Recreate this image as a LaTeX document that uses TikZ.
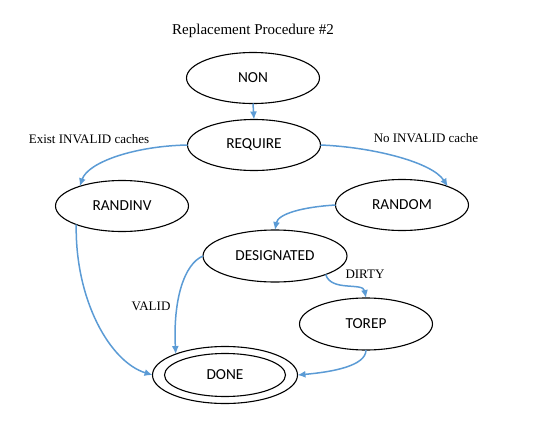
\documentclass[tikz,border=0pt]{standalone}
\usepackage{fontspec}
\setmainfont{Liberation Serif}
\newfontfamily\nodefont{Carlito}
\usetikzlibrary{shapes.geometric,arrows.meta}
\definecolor{arrowblue}{RGB}{91,155,213}
\begin{document}
\begin{tikzpicture}[x=1pt,y=-1pt,
  state/.style={ellipse,draw=black,line width=1.1pt,inner sep=0pt,outer sep=0pt,
    minimum width=133pt,minimum height=51pt,font=\nodefont\fontsize{15.3}{17}\selectfont},
  lbl/.style={font=\fontsize{13}{15}\selectfont,inner sep=0pt},
  conn/.style={draw=arrowblue,line width=1.5pt,-{Latex[length=8pt,width=7pt]}}]
\useasboundingbox (0,0) rectangle (550,437);
\node[lbl,font=\fontsize{15}{17}\selectfont] (title) at (253,31) {Replacement Procedure \#2};
\node[state] (non) at (253,78) {NON};
\node[state] (req) at (254,145) {REQUIRE};
\node[state] (rinv) at (122,206) {RANDINV};
\node[state] (rand) at (402,205) {RANDOM};
\node[state,minimum width=144pt,minimum height=52pt] (des) at (275,256) {DESIGNATED};
\node[state,minimum height=52pt] (torep) at (366,324) {TOREP};
\node[state,minimum width=145pt,minimum height=57pt] (done) at (225,375) {DONE};
\node[ellipse,draw=black,line width=1.1pt,minimum width=121pt,minimum height=43pt,inner sep=0pt] (donein) at (225,375) {};
\node[lbl] (lexist) at (89,139) {Exist INVALID caches};
\node[lbl] (lno) at (426,138) {No INVALID cache};
\node[lbl] (lvalid) at (151,306) {VALID};
\node[lbl] (ldirty) at (365,274) {DIRTY};
\draw[conn] (non.south) -- (req.north);
\draw[conn] (req.west) .. controls (135,146) and (88,162) .. (rinv.155);
\draw[conn] (req.east) .. controls (372,147) and (432,162) .. (rand.22);
\draw[conn] (rand.west) .. controls (302,207) and (278,214) .. (des.north);
\draw[conn] (rinv.202) .. controls (75,300) and (110,362) .. (done.west);
\draw[conn] (des.west) .. controls (184,264) and (173,300) .. (done.157);
\draw[conn] (des.340) .. controls (331,292) and (363,282) .. (torep.north);
\draw[conn] (torep.south) .. controls (366,366) and (332,372) .. (done.east);
\end{tikzpicture}
\end{document}
